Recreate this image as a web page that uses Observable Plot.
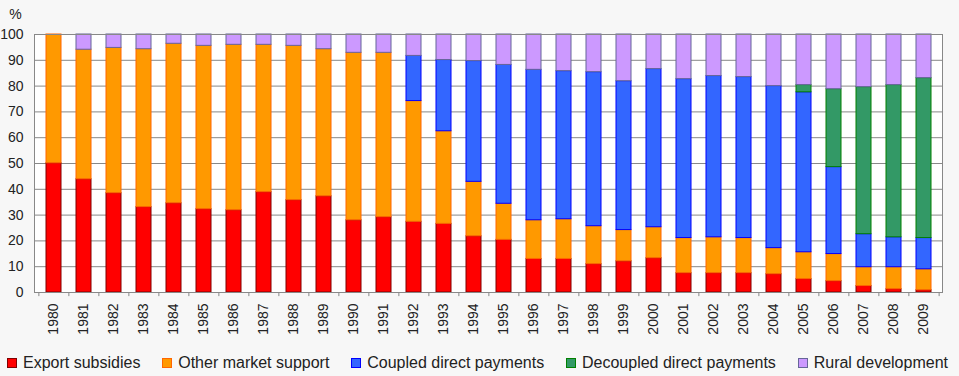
<!DOCTYPE html>
<html><head><meta charset="utf-8">
<script src="https://cdn.jsdelivr.net/npm/d3@7"></script>
<script src="https://cdn.jsdelivr.net/npm/@observablehq/plot@0.6"></script>
<style>
body{margin:0;background:#f7f7f7;font-family:"Liberation Sans",Arial,sans-serif;}
#wrap{position:relative;width:959px;height:376px;}
#legend{position:absolute;left:7px;top:355px;width:941px;display:flex;justify-content:space-between;font-size:16px;line-height:16px;color:#222;}
.item{display:flex;align-items:center;white-space:nowrap}
.sw{width:8px;height:8px;border:1px solid;margin-right:6px;}
</style></head><body><div id="wrap"><div id="chart"></div><div id="legend"></div></div>
<script>
const years = ["1980","1981","1982","1983","1984","1985","1986","1987","1988","1989","1990","1991","1992","1993","1994","1995","1996","1997","1998","1999","2000","2001","2002","2003","2004","2005","2006","2007","2008","2009"];
const series = ["Export subsidies","Other market support","Coupled direct payments","Decoupled direct payments","Rural development"];
const exportSubsidies   = [50.1,43.9,38.5,33.1,34.6,32.3,31.9,38.9,35.8,37.3,28.0,29.2,27.4,26.6,21.8,20.4,13.0,13.0,11.0,12.1,13.3,7.5,7.5,7.5,7.1,5.2,4.4,2.5,1.3,0.9];
const otherMarket       = [49.9,50.2,56.3,61.2,61.8,63.3,64.1,57.1,59.8,57.0,64.9,63.7,46.8,35.9,21.1,14.0,15.0,15.4,14.7,12.1,12.0,13.6,13.9,13.6,10.1,10.4,10.5,7.3,8.5,8.1];
const coupledDirect     = [0,0,0,0,0,0,0,0,0,0,0,0,17.5,27.6,46.8,53.8,58.3,57.4,59.7,57.7,61.3,61.6,62.5,62.4,62.8,62.0,33.7,12.8,11.6,12.1];
const decoupledDirect   = [0,0,0,0,0,0,0,0,0,0,0,0,0,0,0,0,0,0,0,0,0,0,0,0,0,2.8,30.2,57.0,59.0,62.0];
const ruralDevelopment  = [0,5.9,5.2,5.7,3.6,4.4,4.0,4.0,4.4,5.7,7.1,7.1,8.3,9.9,10.3,11.8,13.7,14.2,14.6,18.1,13.4,17.3,16.1,16.5,20.0,19.6,21.2,20.4,19.6,16.9];
const yTicks = [0,10,20,30,40,50,60,70,80,90,100];
const fills   = ["#ff0000","#ff9900","#3366ff","#339966","#cc99ff"];
const strokes = ["#800000","#ff6600","#0000ff","#008000","#666699"];

const values = [exportSubsidies, otherMarket, coupledDirect, decoupledDirect, ruralDevelopment];
const rows = years.flatMap((yr, i) => series.map((s, j) => ({year: yr, series: s, idx: j, value: values[j][i]}))).filter(d => d.value > 0);

const W = 959, H = 348, mL = 34, mR = 17, mT = 34, mB = 56;
const step = (W - mL - mR) / years.length;

const chart = Plot.plot({
  width: W, height: H,
  marginLeft: mL, marginRight: mR, marginTop: mT, marginBottom: mB,
  style: {background: "transparent", fontFamily: "'Liberation Sans', Arial, sans-serif", color: "#222"},
  x: {domain: years, paddingInner: 0.5, paddingOuter: 0.25},
  y: {domain: [0, 100]},
  color: {type: "identity"},
  marks: [
    Plot.frame({fill: "white", stroke: null}),
    Plot.gridY(yTicks, {stroke: "#888", strokeOpacity: 1}),
    Plot.barY(rows, {x: "year", y: "value", z: "series", order: series,
      fill: d => fills[d.idx], stroke: d => strokes[d.idx], strokeWidth: 1}),
    Plot.frame({stroke: "#888"}),
    Plot.ruleX(years, {x: d => d, dx: -step / 2, y1: 0, y2: -1.6, stroke: "#888"}),
    Plot.ruleX(years.slice(-1), {x: d => d, dx: step / 2, y1: 0, y2: -1.6, stroke: "#888"}),
    Plot.axisY(yTicks, {tickSize: 0, tickPadding: 11, fontSize: 14, label: null}),
    Plot.axisX({tickSize: 0, tickRotate: -90, tickPadding: 11, fontSize: 14, label: null}),
    Plot.text(["%"], {frameAnchor: "top-left", dx: -19, dy: -25, fontSize: 14, textAnchor: "middle"})
  ]
});
document.getElementById("chart").appendChild(chart);

const lg = document.getElementById("legend");
series.forEach((s, j) => {
  const it = document.createElement("div"); it.className = "item";
  const sw = document.createElement("span"); sw.className = "sw";
  sw.style.background = fills[j]; sw.style.borderColor = strokes[j];
  const t = document.createElement("span"); t.textContent = s;
  it.appendChild(sw); it.appendChild(t); lg.appendChild(it);
});
</script>
</body></html>
